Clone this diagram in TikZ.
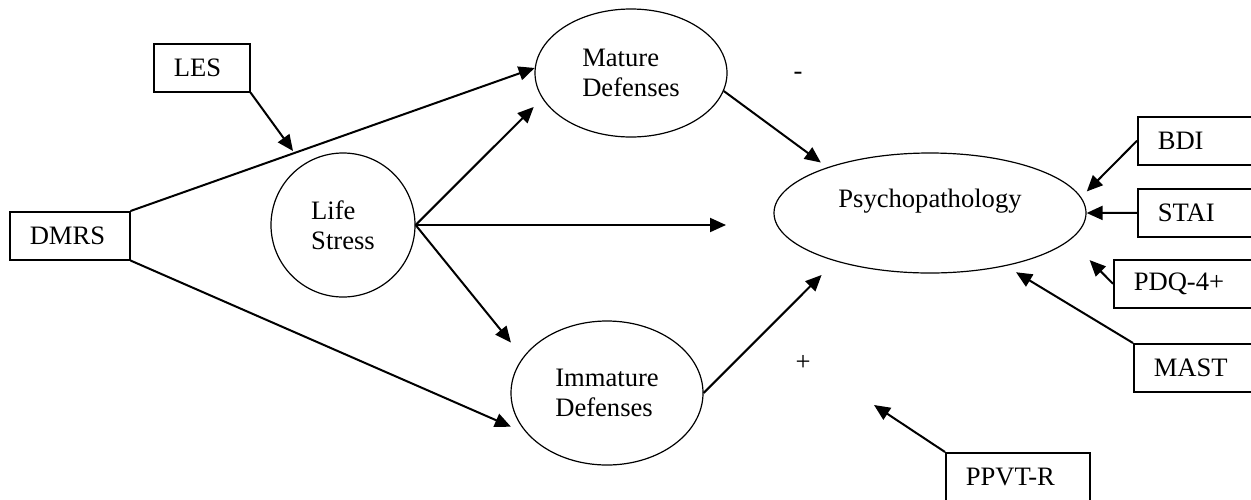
\documentclass[tikz,border=0pt]{standalone}
\usepackage{fontspec}
\setmainfont{Liberation Serif}
\usetikzlibrary{shapes.geometric,arrows.meta}
\tikzset{
  box/.style={draw, line width=0.75pt, minimum height=24pt, inner xsep=10pt, inner ysep=0pt, align=left, anchor=north west},
  latent/.style={draw, ellipse, line width=0.6pt, inner sep=0pt, align=left},
  arr/.style={line width=1pt, -{Triangle[length=8pt,width=7pt]}}
}
\begin{document}
\begin{tikzpicture}[x=0.5pt, y=-0.5pt, font=\fontsize{13.3}{15}\selectfont]
\useasboundingbox (0,0) rectangle (1251,499);
\clip (0,0) rectangle (1251,499);

\node [box, text width=28pt] (les) at (153,43) {LES};
\node [box, text width=40pt] (dmrs) at (9,211) {DMRS};
\node [draw, circle, line width=0.6pt, inner sep=0pt, minimum size=72pt, align=left] (life) at (343,225) {Life\\Stress};
\node [latent, minimum width=96pt, minimum height=64pt] (mature) at (631,73) {Mature\\Defenses};
\node [latent, minimum width=96pt, minimum height=72pt] (immature) at (607,393) {Immature\\Defenses};
\node [latent, minimum width=156pt, minimum height=60pt, align=center] (psy) at (930,213) {Psychopathology\\\mbox{}};

\node [box, text width=60pt] (bdi) at (1137,116) {BDI};
\node [box, text width=60pt] (stai) at (1137,188) {STAI};
\node [box, text width=70pt] (pdq) at (1113,259) {PDQ-4+};
\node [box, text width=60pt] (mast) at (1133,343) {MAST};
\node [box, text width=52pt] (ppvt) at (945,452) {PPVT-R};

\node (minus) at (798,76) {-};
\node (plus) at (803,363) {+};

\coordinate (lesend) at (293,151);
\coordinate (lifeend) at (726,225);
\coordinate (ppvtend) at (874,405);

\draw [arr] (les.south east) -- (lesend);
\draw [arr] (dmrs.north east) -- (mature.177);
\draw [arr, shorten >=8.8pt] (dmrs.south east) -- (immature.207);
\draw [arr, shorten >=6pt] (life.east) -- (mature.196);
\draw [arr] (life.east) -- (lifeend);
\draw [arr, shorten >=9.5pt] (life.east) -- (immature.157);
\draw [arr, shorten >=4pt] (mature.-11) -- (psy.156);
\draw [arr, shorten >=9.7pt] (immature.east) -- (psy.207);
\draw [arr, shorten >=4pt] (bdi.west) -- (psy.6);
\draw [arr] (stai.west) -- (psy.east);
\draw [arr, shorten >=14pt] (pdq.west) -- (psy.-11);
\draw [arr, shorten >=6pt] (mast.north west) -- (psy.-35);
\draw [arr] (ppvt.north west) -- (ppvtend);

\end{tikzpicture}
\end{document}
